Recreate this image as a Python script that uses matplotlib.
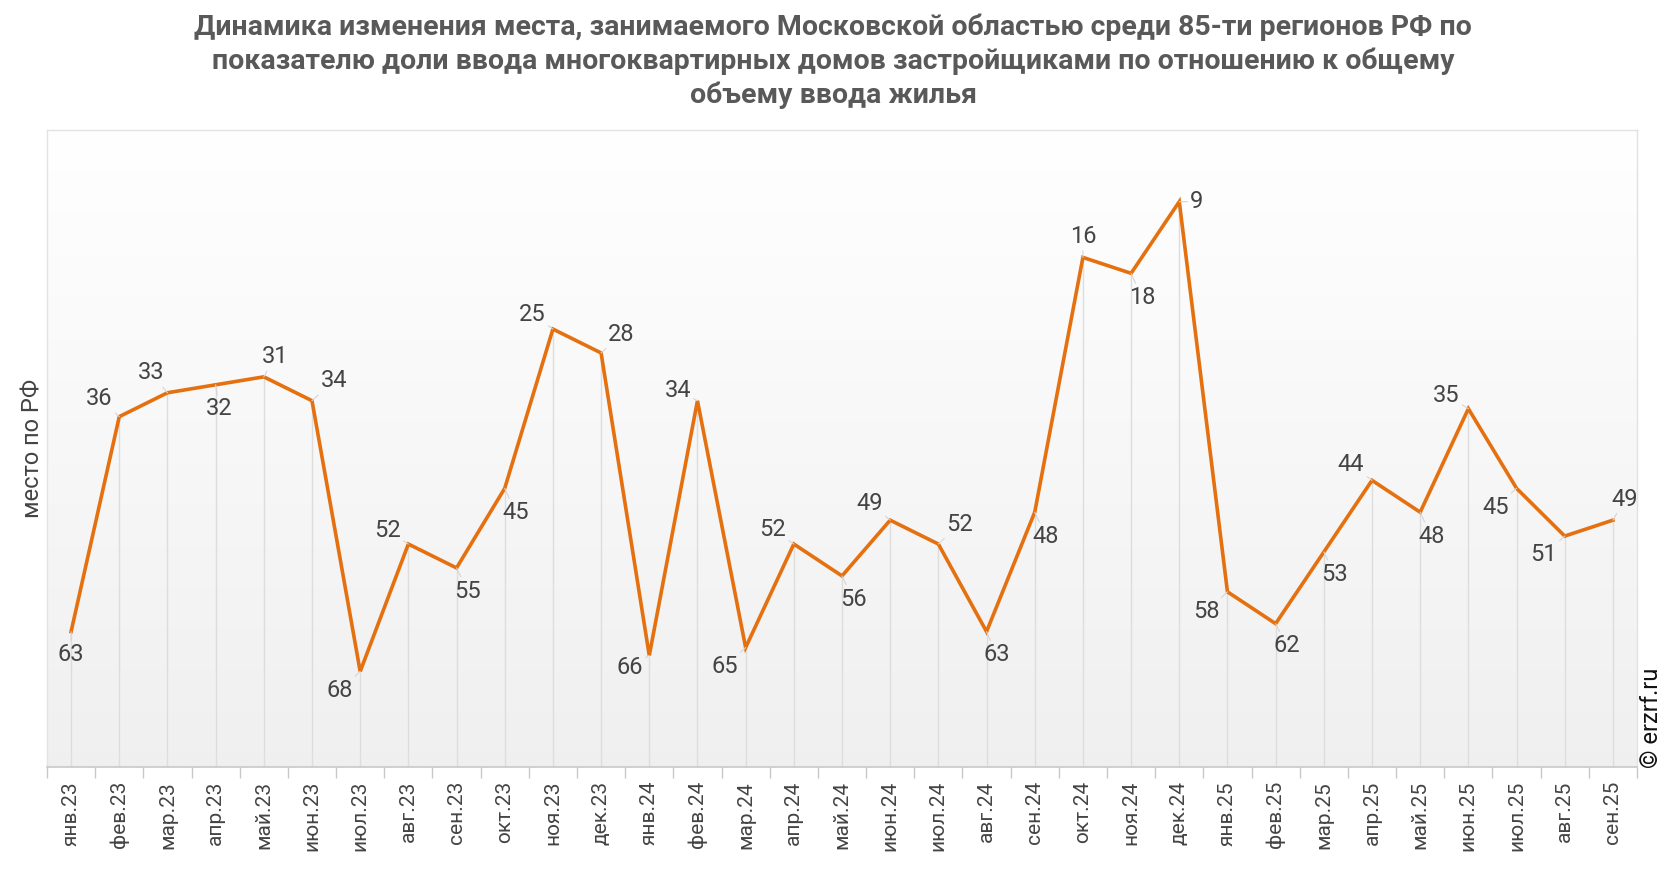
import numpy as np
import matplotlib
matplotlib.use("Agg")
import matplotlib.pyplot as plt

plt.rcParams['font.family'] = ['Roboto', 'DejaVu Sans']

months = ["янв.23", "фев.23", "мар.23", "апр.23", "май.23", "июн.23", "июл.23",
          "авг.23", "сен.23", "окт.23", "ноя.23", "дек.23",
          "янв.24", "фев.24", "мар.24", "апр.24", "май.24", "июн.24", "июл.24",
          "авг.24", "сен.24", "окт.24", "ноя.24", "дек.24",
          "янв.25", "фев.25", "мар.25", "апр.25", "май.25", "июн.25", "июл.25",
          "авг.25", "сен.25"]
rank = [63, 36, 33, 32, 31, 34, 68, 52, 55, 45, 25, 28,
        66, 34, 65, 52, 56, 49, 52, 63, 48, 16, 18, 9,
        58, 62, 53, 44, 48, 35, 45, 51, 49]

# where each value label sits relative to its point (pixels)
label_pos = [(0, -22), (-18, 17), (-15, 19), (3, -23), (10, 19), (20, 19), (-19, -18),
             (-19, 13), (10, -22), (10, -23), (-19, 14), (18, 18),
             (-18, -11), (-18, 10), (-19, -18), (-19, 14), (10, -22), (-19, 16), (19, 19),
             (9, -22), (10, -23), (0, 20), (10, -23), (16, 0),
             (-19, -19), (10, -21), (10, -21), (-19, 15), (10, -23), (-20, 13), (-19, -18),
             (-19, -18), (11, 20)]
label_pos = [(dx * 1.1, dy * 1.05) for dx, dy in label_pos]

orange = "#E5700F"
grey_txt = "#444444"

fig = plt.figure(figsize=(16.66, 8.72), dpi=100)
ax = fig.add_axes([47 / 1666, 1 - 767 / 872, (1637 - 47) / 1666, (767 - 130) / 872])

x = np.arange(len(months))
ax.set_xlim(-0.5, len(months) - 0.5)
ax.set_ylim(80, 0)

# background gradient
grad = np.linspace(1.0, 0.94, 256).reshape(-1, 1)
ax.imshow(np.dstack([grad, grad, grad]), extent=(-0.5, len(months) - 0.5, 80, 0),
          aspect='auto', zorder=0, interpolation='bilinear')

ax.vlines(x, rank, 80, color="#dddddd", lw=1, zorder=1)
ax.plot(x, rank, color=orange, lw=2.6, zorder=3, solid_joinstyle='miter')

for xi, r, (dx, dy) in zip(x, rank, label_pos):
    ax.annotate(str(r), (xi, r), xytext=(dx, dy), textcoords='offset pixels',
                ha='center', va='center', fontsize=17, color=grey_txt, zorder=4,
                arrowprops=dict(arrowstyle='-', color="#d5d5d5", lw=0.8,
                                shrinkA=10, shrinkB=0))

ax.set_xticks(x)
ax.set_xticklabels(months, rotation=90, fontsize=15, color=grey_txt)
ax.set_xticks(np.arange(-0.5, len(months)), minor=True)
ax.tick_params(axis='x', which='major', length=0, pad=10)
ax.tick_params(axis='x', which='minor', length=8, color="#c8c8c8", width=1)
ax.set_yticks([])

for s in ['top', 'right', 'left']:
    ax.spines[s].set_color("#e2e2e2")
    ax.spines[s].set_linewidth(1)
ax.spines['bottom'].set_color("#c8c8c8")
ax.spines['bottom'].set_linewidth(1.2)

ax.set_ylabel("место по РФ", fontsize=17, color=grey_txt, labelpad=2)

fig.text(0.5, 0.984,
         "Динамика изменения места, занимаемого Московской областью среди 85-ти регионов РФ по\n"
         "показателю доли ввода многоквартирных домов застройщиками по отношению к общему\n"
         "объему ввода жилья",
         ha='center', va='top', fontsize=20.5, fontweight='bold', color="#595959",
         linespacing=1.3)

fig.text(1651 / 1666, 1 - 768 / 872, "© erzrf.ru", rotation=90, ha='center', va='bottom',
         fontsize=17, color="#111111")

fig.savefig("out.png", dpi=100)
